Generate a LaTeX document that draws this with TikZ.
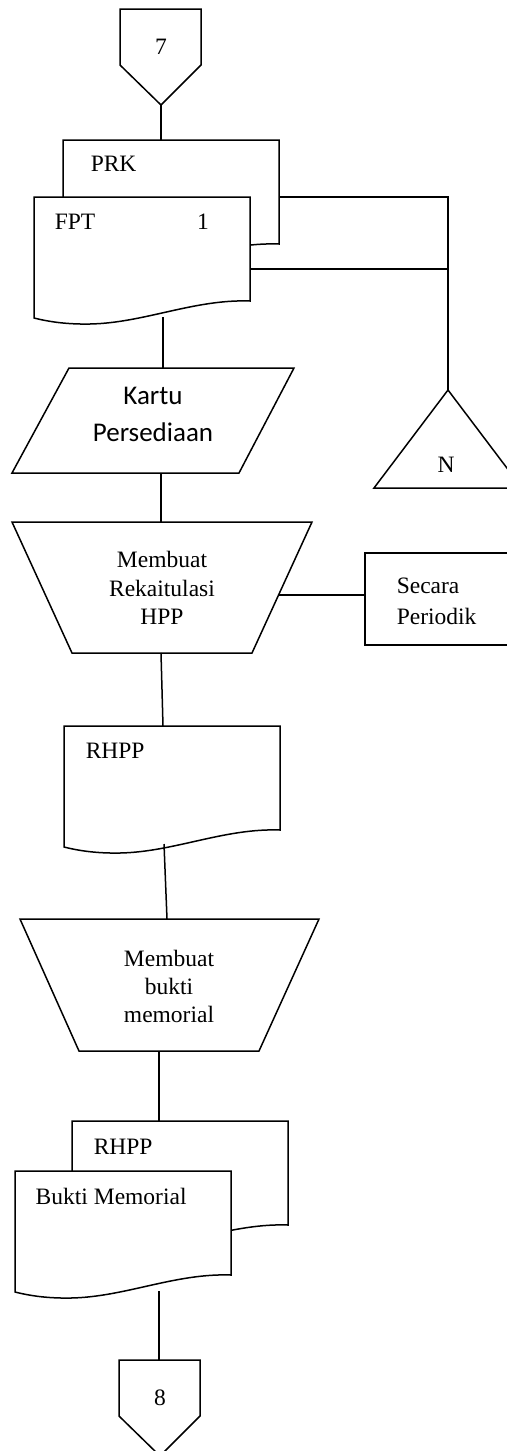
\documentclass[tikz,border=0pt]{standalone}
\usepackage{fontspec}
\setmainfont{Liberation Serif}
\newfontfamily\kartufont{Carlito}

\begin{document}
\begin{tikzpicture}[x=0.5pt,y=-0.5pt,line width=0.75pt,
  docu/.pic={\draw[fill=white] (0,0) -- (216,0) -- (216,104)
      .. controls (160,102) and (110,126) .. (56,127)
      .. controls (30,127.5) and (12,124) .. (0,121) -- cycle;},
  lbl/.style={inner sep=0pt,font=\fontsize{11.75}{14.25}\selectfont},
  lblw/.style={lbl,anchor=west,align=left}]
  \useasboundingbox (0,0) rectangle (507,1451);
  \clip (0,0) rectangle (507,1451);
  % off-page connectors
  \foreach \x/\y/\lab in {161/9/7,160/1360/8}
    {\draw (\x-41,\y) -- (\x+40,\y) -- (\x+40,\y+56) -- (\x,\y+96) -- (\x-41,\y+56) -- cycle;
     \node[lbl] (off\lab) at (\x,\y+38) {\lab};}
  % documents (back ones first)
  \pic at (63,140) {docu};
  \pic at (34,197) {docu};
  \pic at (64,726) {docu};
  \pic at (72,1121) {docu};
  \pic at (15,1171) {docu};
  \node[lblw] (prk) at (90,164) {PRK};
  \node[lblw] (fpt) at (54,222) {FPT};
  \node[lbl] (fptno) at (203,222) {1};
  \node[lblw] (rhpp) at (85,751) {RHPP};
  \node[lblw] (rhppb) at (93,1147) {RHPP};
  \node[lblw] (bm) at (35,1196) {Bukti Memorial};
  % input and manual operations
  \draw (69,368) -- (294,368) -- (239,473) -- (12,473) -- cycle;
  \node[inner sep=0pt,align=center,font=\kartufont\fontsize{13.5}{18.5}\selectfont]
    (kartu) at (153,414) {Kartu\\Persediaan};
  \draw (12,522) -- (312,522) -- (252,653) -- (72,653) -- cycle;
  \node[lbl,align=center] (hpp) at (162,588) {Membuat\\Rekaitulasi\\HPP};
  \draw (20,919) -- (319,919) -- (259,1051) -- (79,1051) -- cycle;
  \node[lbl,align=center,font=\fontsize{11.75}{14}\selectfont] (memo) at (169,986) {Membuat\\bukti\\memorial};
  % file and note
  \draw (448,390) -- (522,488) -- (374,488) -- cycle;
  \node[lbl] (file) at (446,465) {N};
  \draw (560,553) -- (365,553) -- (365,645) -- (560,645);
  \node[lblw,font=\fontsize{11.75}{15.5}\selectfont] (peri) at (396,601) {Secara\\Periodik};
  % connector ends
  \coordinate (c7) at (161,105);   \coordinate (prkT) at (161,140);
  \coordinate (fptB) at (163,317); \coordinate (kartuT) at (163,368);
  \coordinate (kartuB) at (161,473); \coordinate (hppT) at (161,522);
  \coordinate (hppB) at (161,653); \coordinate (rhppT) at (163,726);
  \coordinate (rhppB) at (164,844); \coordinate (memoT) at (167,919);
  \coordinate (memoB) at (159,1051); \coordinate (rhppbT) at (159,1121);
  \coordinate (bmB) at (159,1291); \coordinate (c8) at (159,1360);
  \coordinate (hppR) at (279,595); \coordinate (periL) at (365,595);
  \coordinate (prkR) at (279,197); \coordinate (fileT) at (448,390);
  \coordinate (fptR) at (250,269); \coordinate (fileJ) at (448,269);
  % flow lines
  \foreach \a/\b in {c7/prkT,fptB/kartuT,kartuB/hppT,hppB/rhppT,rhppB/memoT,
                     memoB/rhppbT,bmB/c8,hppR/periL,fptR/fileJ}
    \draw (\a) -- (\b);
  \draw (prkR) -| (fileT);
\end{tikzpicture}
\end{document}
